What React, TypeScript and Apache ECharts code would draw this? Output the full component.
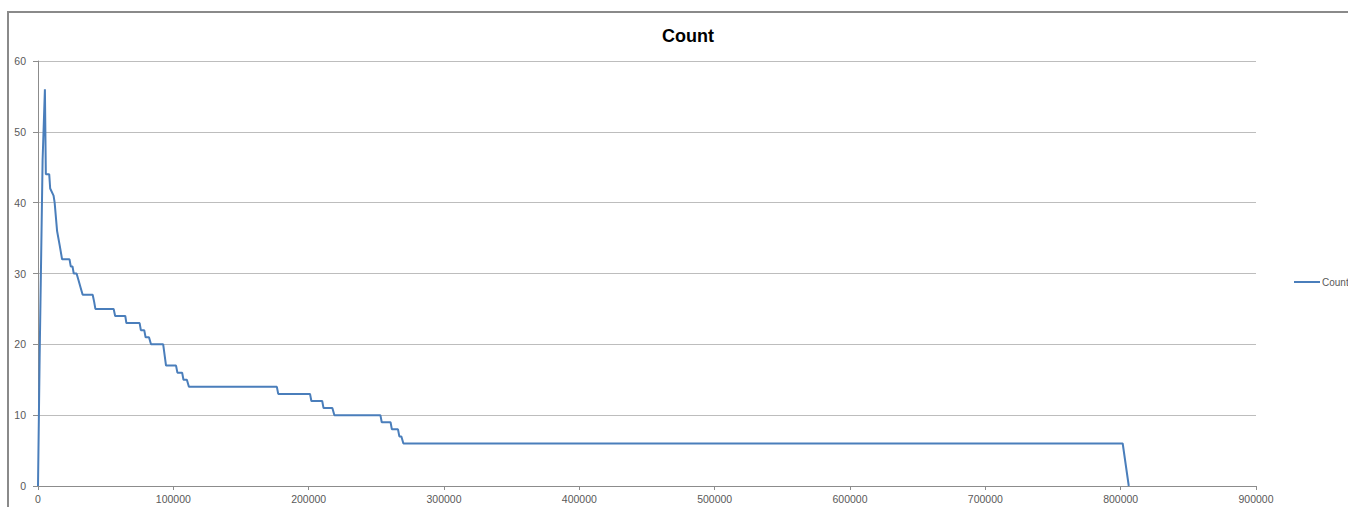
import React, { useEffect, useRef } from "react";
import * as echarts from "echarts";

const chartTitle = "Count";
const seriesName = "Count";
const xTicks = { min: 0, max: 900000, interval: 100000 };
const yTicks = { min: 0, max: 60, interval: 10 };

const xValues = [
  0, 1200, 3400, 5100, 5800, 8300, 9000, 11500, 12300, 14100, 16000, 17800,
  23300, 24200, 25500, 26400, 28500, 30000, 31500, 33000, 40400, 41500, 42400,
  55900, 57000, 64500, 65300, 75100, 76000, 78500, 79500, 82000, 83500, 92500,
  94600, 102000, 103000, 106500, 107500, 110000, 111500, 176500, 177500,
  201000, 202000, 210000, 211000, 217500, 219000, 253000, 254000, 260500,
  261500, 266000, 267000, 268500, 270000, 801500, 806000,
];
const counts = [
  0, 18, 46, 56, 44, 44, 42, 41, 40, 36, 34, 32,
  32, 31, 31, 30, 30, 29, 28, 27, 27, 26, 25,
  25, 24, 24, 23, 23, 22, 22, 21, 21, 20, 20,
  17, 17, 16, 16, 15, 15, 14, 14, 13,
  13, 12, 12, 11, 11, 10, 10, 9, 9,
  8, 8, 7, 7, 6, 6, 0,
];

export default function App() {
  const ref = useRef<HTMLDivElement>(null);
  useEffect(() => {
    if (!ref.current) return;
    const chart = echarts.init(ref.current, null, { renderer: "svg" });
    const data = xValues.map((x, i) => [x, counts[i]]);
    const labelStyle = {
      color: "#595959",
      fontSize: 10.5,
      fontFamily: "Liberation Sans, Arial, sans-serif",
    };
    chart.setOption({
      animation: false,
      backgroundColor: "#ffffff",
      title: {
        text: chartTitle,
        left: 657,
        top: 22,
        textStyle: {
          fontSize: 18,
          fontWeight: "bold",
          color: "#000000",
          fontFamily: "Liberation Sans, Arial, sans-serif",
        },
      },
      legend: {
        data: [seriesName],
        left: 1289,
        top: 272,
        icon: "rect",
        itemWidth: 26,
        itemHeight: 2,
        itemGap: 2,
        textStyle: { ...labelStyle, fontSize: 10, padding: [0, 0, 0, -3] },
      },
      grid: { left: 38, right: 92, top: 61, bottom: 21, containLabel: false },
      xAxis: {
        type: "value",
        min: xTicks.min,
        max: xTicks.max,
        interval: xTicks.interval,
        axisLine: { show: true, lineStyle: { color: "#8c8c8c", width: 1 } },
        axisTick: { show: true, length: 4, lineStyle: { color: "#8c8c8c" } },
        axisLabel: { ...labelStyle, margin: 7, formatter: (v: number) => String(v) },
        splitLine: { show: false },
      },
      yAxis: {
        type: "value",
        min: yTicks.min,
        max: yTicks.max,
        interval: yTicks.interval,
        axisLine: { show: true, lineStyle: { color: "#8c8c8c", width: 1 } },
        axisTick: { show: true, length: 5, lineStyle: { color: "#8c8c8c" } },
        axisLabel: { ...labelStyle, margin: 12, formatter: (v: number) => String(v) },
        splitLine: { show: true, lineStyle: { color: "#bdbdbd", width: 1 } },
      },
      series: [
        {
          name: seriesName,
          type: "line",
          data,
          showSymbol: false,
          symbol: "none",
          lineStyle: { color: "#4a7ebb", width: 2 },
          itemStyle: { color: "#4a7ebb" },
        },
      ],
      graphic: [
        {
          type: "rect",
          shape: { x: 8, y: 12, width: 1500, height: 700 },
          style: { fill: "none", stroke: "#8a8a8a", lineWidth: 2 },
          silent: true,
          z: 100,
        },
      ],
    });
    return () => chart.dispose();
  }, []);
  return (
    <div
      style={{
        position: "fixed",
        left: 0,
        top: 0,
        width: 1348,
        height: 507,
        overflow: "hidden",
        background: "#fff",
      }}
    >
      <div ref={ref} style={{ width: 1348, height: 507 }} />
    </div>
  );
}
